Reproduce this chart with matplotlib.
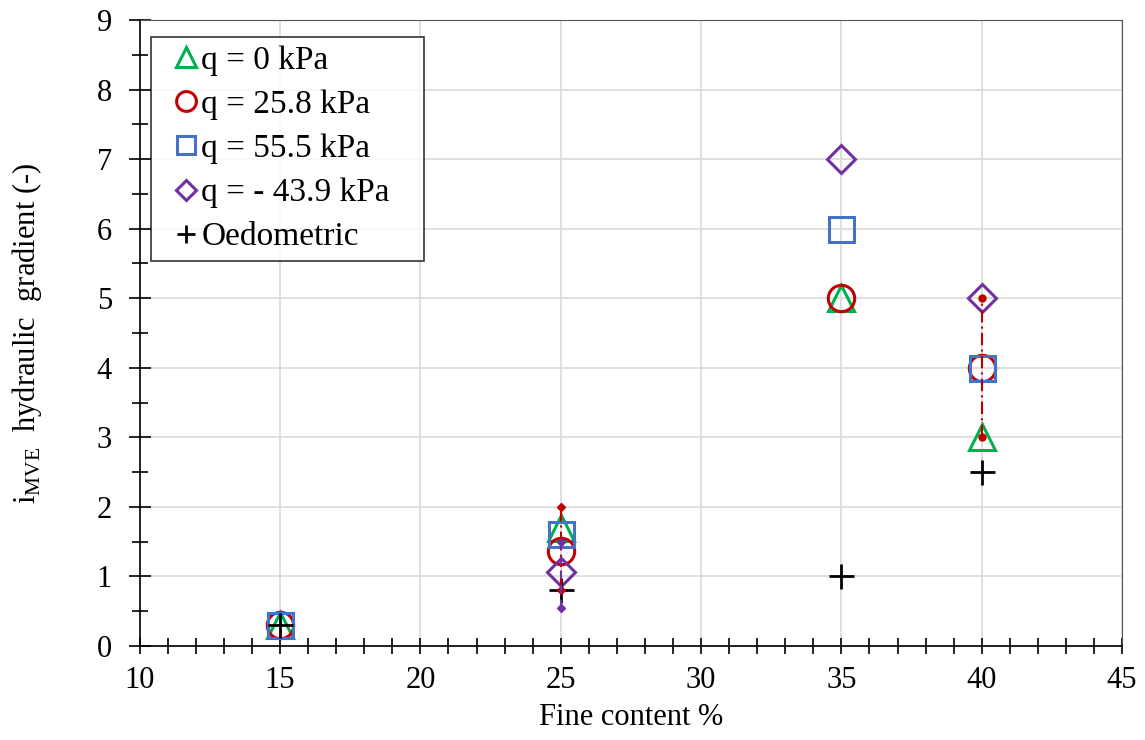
import matplotlib.pyplot as plt
from matplotlib.ticker import MultipleLocator

plt.rcParams['font.family'] = ['Liberation Serif', 'DejaVu Serif']
plt.rcParams['mathtext.fontset'] = 'custom'
plt.rcParams['mathtext.rm'] = 'Liberation Serif'

# dati
fc = [15, 25, 35, 40]
q0 = [0.3, 1.7, 5.0, 3.0]
q258 = [0.3, 1.36, 5.0, 4.0]
q555 = [0.3, 1.61, 6.0, 4.0]
fc_neg = [25, 35, 40]
qneg = [1.06, 7.0, 5.0]
oedo = [0.3, 0.8, 1.0, 2.5]

# barre di variazione (min, max)
red_x25 = [25, 25]
red_y25 = [0.8, 2.0]
pur_x25 = [25, 25]
pur_y25 = [0.55, 1.5]
red_x40 = [40, 40]
red_y40 = [3.0, 5.0]

fig, ax = plt.subplots(figsize=(11.45, 7.4), dpi=100)
fig.subplots_adjust(left=0.122, right=0.98, bottom=0.127, top=0.973)

ax.plot(fc, q0, '^', ms=19, mfc='none', mec='#00B050', mew=2.2, ls='none', label='q = 0 kPa', zorder=3)
ax.plot(fc, q258, 'o', ms=19, mfc='none', mec='#C00000', mew=2.2, ls='none', label='q = 25.8 kPa', zorder=3)
ax.plot(fc, q555, 's', ms=18, mfc='none', mec='#4472C4', mew=2.2, ls='none', label='q = 55.5 kPa', zorder=3)
ax.plot(fc_neg, qneg, 'D', ms=14, mfc='none', mec='#7030A0', mew=2.2, ls='none', label='q = - 43.9 kPa', zorder=3)
ax.plot(fc, oedo, '+', ms=18, color='black', mew=2, ls='none', label='Oedometric', zorder=4)

# linee tratteggiate
ax.plot(red_x25, red_y25, color='#C00000', ls=(0, (6, 2, 1, 2)), lw=1.5, marker='D', ms=4, zorder=5)
ax.plot(pur_x25, pur_y25, color='#7030A0', ls=(0, (4, 3)), lw=1.5, marker='D', ms=4, zorder=5)
ax.plot(red_x40, red_y40, color='#C00000', ls=(0, (6, 2, 1, 2)), lw=1.5, marker='o', ms=5, zorder=5)

ax.set_xlim(10, 45)
ax.set_ylim(0, 9)
ax.xaxis.set_major_locator(MultipleLocator(5))
ax.xaxis.set_minor_locator(MultipleLocator(1))
ax.yaxis.set_major_locator(MultipleLocator(1))
ax.yaxis.set_minor_locator(MultipleLocator(0.5))
ax.tick_params(which='both', direction='inout', width=1.2, labelsize=22, color='black')
ax.tick_params(axis='x', which='both', length=11, pad=9)
ax.tick_params(axis='y', which='major', length=16, pad=12)
ax.tick_params(axis='y', which='minor', length=11)
ax.grid(True, which='major', color='#d9d9d9', lw=1.2)
ax.set_axisbelow(True)
for s in ['left', 'bottom']:
    ax.spines[s].set_linewidth(1.2)
for s in ['top', 'right']:
    ax.spines[s].set_linewidth(0.8)
    ax.spines[s].set_color('#555555')

ax.set_xlabel('Fine content %', fontsize=22, labelpad=6)
ax.set_ylabel(r'i$_{\mathrm{MVE}}$  hydraulic  gradient (-)', fontsize=22)
ax.yaxis.set_label_coords(-0.097, 0.5)

leg = ax.legend(loc='upper left', bbox_to_anchor=(0.012, 0.5, 0.277, 0.473), mode='expand',
                fontsize=24, frameon=True, fancybox=False, edgecolor='black',
                handlelength=1.6, handletextpad=-0.35, labelspacing=0.41, borderpad=0.25,
                markerscale=0.75, borderaxespad=0)
leg.get_frame().set_linewidth(1.2)

plt.savefig('out.png')
